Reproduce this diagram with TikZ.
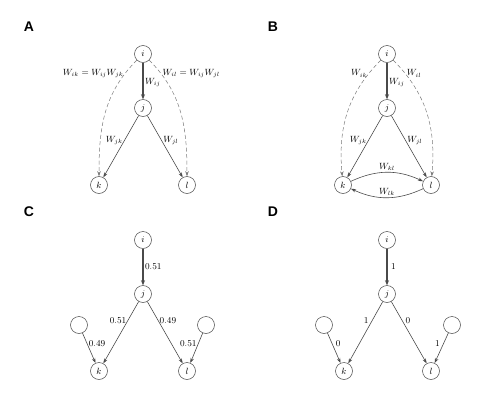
\documentclass[tikz,border=0pt]{standalone}
\usepackage{fontspec}
\newfontfamily\panelfont{Liberation Sans}
\usetikzlibrary{arrows.meta}
\definecolor{edgegray}{HTML}{4A4A4A}
\definecolor{dashgray}{HTML}{7A7A7A}
\tikzset{
  vtx/.style={circle, draw=edgegray, line width=0.5pt, minimum size=17pt, inner sep=0pt, font=\small},
  arr/.style={draw=edgegray, line width=0.6pt, -{Stealth[length=5pt,width=3.5pt]}},
  thickarr/.style={draw=edgegray, line width=1.2pt, -{Stealth[length=5pt,width=4pt]}},
  dasharr/.style={draw=dashgray, line width=0.5pt, dash pattern=on 4pt off 2.5pt, -{Stealth[length=5pt,width=3.5pt]}},
  lbl/.style={font=\small, inner sep=1.5pt},
  panel/.style={font=\panelfont\bfseries\fontsize{14}{14}\selectfont, text=black}
}
\begin{document}
\begin{tikzpicture}[x=1pt,y=1pt]
\useasboundingbox (0,0) rectangle (504,-402);
% panel letters
\node[panel] (pA) at (29,-27) {A};
\node[panel] (pB) at (273,-27) {B};
\node[panel] (pC) at (29,-212) {C};
\node[panel] (pD) at (273,-212) {D};

% ---------- Panel A ----------
\begin{scope}
\node[vtx] (ai) at (143,-54) {$i$};
\node[vtx] (aj) at (143,-108) {$j$};
\node[vtx] (ak) at (99,-185) {$k$};
\node[vtx] (al) at (187,-185) {$l$};
\draw[thickarr] (ai) -- node[lbl, pos=0.55, right] {$W_{ij}$} (aj);
\draw[arr] (aj) -- node[lbl, pos=0.4, left] {$W_{jk}$} (ak);
\draw[arr] (aj) -- node[lbl, pos=0.4, right] {$W_{jl}$} (al);
\draw[dasharr] (ai) to[out=225, in=90] node[lbl, pos=0.13, left] {$W_{ik}=W_{ij}W_{jk}$} (ak);
\draw[dasharr] (ai) to[out=-45, in=90] node[lbl, pos=0.13, right] {$W_{il}=W_{ij}W_{jl}$} (al);
\end{scope}

% ---------- Panel B ----------
\begin{scope}[xshift=244pt]
\node[vtx] (bi) at (143,-54) {$i$};
\node[vtx] (bj) at (143,-108) {$j$};
\node[vtx] (bk) at (99,-185) {$k$};
\node[vtx] (bl) at (187,-185) {$l$};
\draw[thickarr] (bi) -- node[lbl, pos=0.55, right] {$W_{ij}$} (bj);
\draw[arr] (bj) -- node[lbl, pos=0.4, left] {$W_{jk}$} (bk);
\draw[arr] (bj) -- node[lbl, pos=0.4, right] {$W_{jl}$} (bl);
\draw[dasharr] (bi) to[out=225, in=95] node[lbl, pos=0.13, left] {$W_{ik}$} (bk);
\draw[dasharr] (bi) to[out=-45, in=85] node[lbl, pos=0.13, right] {$W_{il}$} (bl);
\draw[arr] (bk) to[bend left=25] node[lbl, above] {$W_{kl}$} (bl);
\draw[arr] (bl) to[bend left=25] node[lbl, above] {$W_{lk}$} (bk);
\end{scope}

% ---------- Panel C ----------
\begin{scope}[yshift=-186pt]
\node[vtx] (ci) at (143,-54) {$i$};
\node[vtx] (cj) at (143,-108) {$j$};
\node[vtx] (ck) at (99,-185) {$k$};
\node[vtx] (cl) at (187,-185) {$l$};
\node[vtx] (cm) at (79,-139) {};
\node[vtx] (cn) at (206,-139) {};
\draw[thickarr] (ci) -- node[lbl, pos=0.5, right] {$0.51$} (cj);
\draw[arr] (cj) -- node[lbl, pos=0.3, left] {$0.51$} (ck);
\draw[arr] (cj) -- node[lbl, pos=0.3, right] {$0.49$} (cl);
\draw[arr] (cm) -- node[lbl, pos=0.35, right] {$0.49$} (ck);
\draw[arr] (cn) -- node[lbl, pos=0.35, left] {$0.51$} (cl);
\end{scope}

% ---------- Panel D ----------
\begin{scope}[xshift=244pt, yshift=-186pt]
\node[vtx] (di) at (143,-54) {$i$};
\node[vtx] (dj) at (143,-108) {$j$};
\node[vtx] (dk) at (100,-185) {$k$};
\node[vtx] (dl) at (187,-185) {$l$};
\node[vtx] (dm) at (80,-139) {};
\node[vtx] (dn) at (208,-139) {};
\draw[thickarr] (di) -- node[lbl, pos=0.5, right=2pt] {$1$} (dj);
\draw[arr] (dj) -- node[lbl, pos=0.3, left=2pt] {$1$} (dk);
\draw[arr] (dj) -- node[lbl, pos=0.3, right=2pt] {$0$} (dl);
\draw[arr] (dm) -- node[lbl, pos=0.35, right=2pt] {$0$} (dk);
\draw[arr] (dn) -- node[lbl, pos=0.35, left=2pt] {$1$} (dl);
\end{scope}
\end{tikzpicture}
\end{document}
